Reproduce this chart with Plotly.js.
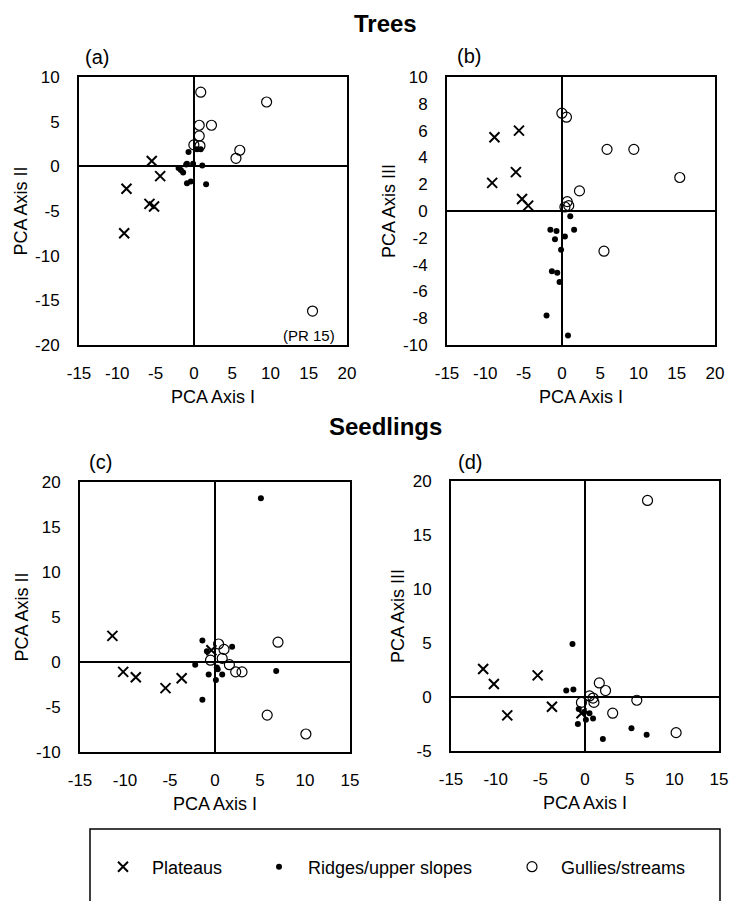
<!DOCTYPE html>
<html>
<head>
<meta charset="utf-8">
<script src="https://cdn.plot.ly/plotly-3.0.1.min.js"></script>
<style>html,body{margin:0;padding:0;background:#fff;}#chart{width:731px;height:901px;}</style>
</head>
<body>
<div id="chart"></div>
<script>
// ---- Data ----
const groupNames = ["Plateaus", "Ridges/upper slopes", "Gullies/streams"];

// (a) Trees: PCA Axis I vs PCA Axis II
const aPlateauX = [-5.5, -4.4, -8.8, -5.8, -5.2, -9.1];
const aPlateauY = [0.6, -1.1, -2.5, -4.2, -4.5, -7.5];
const aRidgeX = [-0.7, 0.4, 0.9, -0.9, -0.1, -2.0, -1.7, -1.4, 1.1, -0.9, -0.4, 1.6, -1.0];
const aRidgeY = [1.6, 1.9, 1.9, 0.3, 0.3, -0.2, -0.4, -0.7, 0.1, -1.9, -1.7, -2.0, 0.2];
const aGullyX = [0.9, 9.5, 0.7, 2.3, 0.7, 0.0, 0.8, 6.0, 5.5, 15.5];
const aGullyY = [8.3, 7.2, 4.6, 4.6, 3.4, 2.4, 2.3, 1.8, 0.9, -16.2];

// (b) Trees: PCA Axis I vs PCA Axis III
const bPlateauX = [-8.8, -5.6, -6.0, -9.1, -5.2, -4.4];
const bPlateauY = [5.5, 6.0, 2.9, 2.1, 0.9, 0.4];
const bRidgeX = [1.1, -1.5, -0.7, 1.6, 0.4, -0.9, -0.1, -1.3, -0.6, -0.3, -2.0, 0.8];
const bRidgeY = [-0.4, -1.4, -1.5, -1.4, -1.9, -2.1, -2.9, -4.5, -4.6, -5.3, -7.8, -9.3];
const bGullyX = [0.0, 0.6, 5.9, 9.4, 15.4, 2.3, 0.7, 0.9, 0.4, 5.5];
const bGullyY = [7.3, 7.0, 4.6, 4.6, 2.5, 1.5, 0.7, 0.4, 0.3, -3.0];

// (c) Seedlings: PCA Axis I vs PCA Axis II
const cPlateauX = [-11.4, -10.2, -8.8, -5.5, -3.7, -0.4];
const cPlateauY = [2.9, -1.1, -1.7, -2.9, -1.8, 1.3];
const cRidgeX = [5.1, -1.4, -0.9, 1.9, -2.2, 0.2, -0.7, 0.8, 0.1, 6.8, -1.4, 0.3];
const cRidgeY = [18.2, 2.4, 1.2, 1.7, -0.3, -0.6, -1.4, -1.4, -2.0, -1.0, -4.2, -0.8];
const cGullyX = [0.4, 1.0, 0.8, -0.5, 1.6, 2.3, 3.0, 7.0, 5.8, 10.1];
const cGullyY = [2.0, 1.4, 0.4, 0.2, -0.3, -1.1, -1.1, 2.2, -5.9, -8.0];

// (d) Seedlings: PCA Axis I vs PCA Axis III
const dPlateauX = [-11.4, -10.2, -8.7, -5.3, -3.7, -0.4];
const dPlateauY = [2.6, 1.2, -1.7, 2.0, -0.9, -1.5];
const dRidgeX = [-1.4, -2.1, -1.3, -0.7, -0.1, 0.5, 0.9, 0.1, -0.8, 2.0, 5.2, 6.9];
const dRidgeY = [4.9, 0.6, 0.7, -1.1, -1.4, -1.5, -2.0, -2.1, -2.5, -3.9, -2.9, -3.5];
const dGullyX = [7.0, 1.6, 2.3, 0.5, -0.4, 0.9, 1.0, 5.8, 3.1, 10.2];
const dGullyY = [18.2, 1.3, 0.6, 0.1, -0.5, -0.1, -0.5, -0.3, -1.5, -3.3];

const xTicksTrees = [-15, -10, -5, 0, 5, 10, 15, 20];
const yTicksA = [10, 5, 0, -5, -10, -15, -20];
const yTicksB = [10, 8, 6, 4, 2, 0, -2, -4, -6, -8, -10];
const xTicksSeed = [-15, -10, -5, 0, 5, 10, 15];
const yTicksC = [20, 15, 10, 5, 0, -5, -10];
const yTicksD = [20, 15, 10, 5, 0, -5];

// ---- Styles ----
const FONT = "Liberation Sans, Arial, Helvetica, sans-serif";
const styles = [
  {symbol: "x-thin-open", size: 10, line: {color: "#000", width: 2}, color: "#000"},
  {symbol: "circle", size: 6, color: "#000", line: {width: 0}},
  {symbol: "circle-open", size: 10, color: "#000", line: {color: "#000", width: 1.2}}
];
const legendIds = ["legend", "legend2", "legend3"];

function mk(xs, ys, gi, xa, ya, legend) {
  return {
    type: "scatter", mode: "markers", x: xs, y: ys,
    xaxis: xa, yaxis: ya, name: groupNames[gi], legendgroup: "g" + gi,
    legend: legendIds[gi],
    showlegend: legend, marker: styles[gi], hoverinfo: "x+y"
  };
}

const data = [
  mk(aPlateauX, aPlateauY, 0, "x", "y", true),
  mk(aRidgeX, aRidgeY, 1, "x", "y", true),
  mk(aGullyX, aGullyY, 2, "x", "y", true),
  mk(bPlateauX, bPlateauY, 0, "x2", "y2", false),
  mk(bRidgeX, bRidgeY, 1, "x2", "y2", false),
  mk(bGullyX, bGullyY, 2, "x2", "y2", false),
  mk(cPlateauX, cPlateauY, 0, "x3", "y3", false),
  mk(cRidgeX, cRidgeY, 1, "x3", "y3", false),
  mk(cGullyX, cGullyY, 2, "x3", "y3", false),
  mk(dPlateauX, dPlateauY, 0, "x4", "y4", false),
  mk(dRidgeX, dRidgeY, 1, "x4", "y4", false),
  mk(dGullyX, dGullyY, 2, "x4", "y4", false)
];

const W = 731, H = 901;
function px(x) { return x / W; }
function py(y) { return 1 - y / H; }

function xax(domain, range, ticks, anchor) {
  return {
    domain: domain, range: range, tickvals: ticks, ticktext: ticks.map(String),
    anchor: anchor, showgrid: false, zeroline: true, zerolinecolor: "#000", zerolinewidth: 2,
    showline: true, mirror: true, linecolor: "#000", linewidth: 2,
    ticks: "", ticklabelstandoff: 12, tickfont: {family: FONT, size: 17, color: "#000"},
    title: {text: "PCA Axis I", font: {family: FONT, size: 18, color: "#000"}, standoff: 8},
    fixedrange: true
  };
}
function yax(domain, range, ticks, anchor, label) {
  return {
    domain: domain, range: range, tickvals: ticks, ticktext: ticks.map(String),
    anchor: anchor, showgrid: false, zeroline: true, zerolinecolor: "#000", zerolinewidth: 2,
    showline: true, mirror: true, linecolor: "#000", linewidth: 2,
    ticks: "", ticklabelstandoff: 14, tickfont: {family: FONT, size: 17, color: "#000"},
    title: {text: label, font: {family: FONT, size: 18, color: "#000"}, standoff: 3},
    fixedrange: true
  };
}

function leg(xLeft) {
  return {
    orientation: "h", x: px(xLeft), y: py(867), xanchor: "left", yanchor: "middle",
    font: {family: FONT, size: 18, color: "#000"}, bgcolor: "rgba(0,0,0,0)",
    borderwidth: 0, itemwidth: 48, itemclick: false, itemdoubleclick: false
  };
}

const layout = {
  width: W, height: H,
  margin: {l: 0, r: 0, t: 0, b: 0},
  paper_bgcolor: "#fff", plot_bgcolor: "#fff",
  font: {family: FONT, color: "#000"},
  xaxis: xax([px(79), px(347)], [-15, 20], xTicksTrees, "y"),
  yaxis: yax([py(345), py(77)], [-20, 10], yTicksA, "x", "PCA Axis II"),
  xaxis2: xax([px(447), px(715)], [-15, 20], xTicksTrees, "y2"),
  yaxis2: yax([py(345), py(77)], [-10, 10], yTicksB, "x2", "PCA Axis III"),
  xaxis3: xax([px(80), px(350)], [-15, 15], xTicksSeed, "y3"),
  yaxis3: yax([py(752), py(482)], [-10, 20], yTicksC, "x3", "PCA Axis II"),
  xaxis4: xax([px(451), px(719)], [-15, 15], xTicksSeed, "y4"),
  yaxis4: yax([py(751), py(481)], [-5, 20], yTicksD, "x4", "PCA Axis III"),
  showlegend: true,
  legend: leg(94),
  legend2: leg(250),
  legend3: leg(503),
  shapes: [
    {type: "rect", xref: "paper", yref: "paper", x0: px(90), x1: px(720), y0: py(930), y1: py(829),
     line: {color: "#000", width: 1.5}, fillcolor: "rgba(0,0,0,0)", layer: "below"}
  ],
  annotations: [
    {text: "<b>Trees</b>", xref: "paper", yref: "paper", x: px(385), y: py(24), xanchor: "center", yanchor: "middle",
     showarrow: false, font: {family: FONT, size: 24, color: "#000"}},
    {text: "<b>Seedlings</b>", xref: "paper", yref: "paper", x: px(385), y: py(427), xanchor: "center", yanchor: "middle",
     showarrow: false, font: {family: FONT, size: 24, color: "#000"}},
    {text: "(a)", xref: "paper", yref: "paper", x: px(97), y: py(57), xanchor: "center", yanchor: "middle",
     showarrow: false, font: {family: FONT, size: 20, color: "#000"}},
    {text: "(b)", xref: "paper", yref: "paper", x: px(469), y: py(56), xanchor: "center", yanchor: "middle",
     showarrow: false, font: {family: FONT, size: 20, color: "#000"}},
    {text: "(c)", xref: "paper", yref: "paper", x: px(100), y: py(462), xanchor: "center", yanchor: "middle",
     showarrow: false, font: {family: FONT, size: 20, color: "#000"}},
    {text: "(d)", xref: "paper", yref: "paper", x: px(470), y: py(462), xanchor: "center", yanchor: "middle",
     showarrow: false, font: {family: FONT, size: 20, color: "#000"}},
    {text: "(PR 15)", xref: "x", yref: "y", x: 15.0, y: -18.9, xanchor: "center", yanchor: "middle",
     showarrow: false, font: {family: FONT, size: 15, color: "#000"}}
  ]
};

Plotly.newPlot("chart", data, layout, {displayModeBar: false, staticPlot: true});
</script>
</body>
</html>
